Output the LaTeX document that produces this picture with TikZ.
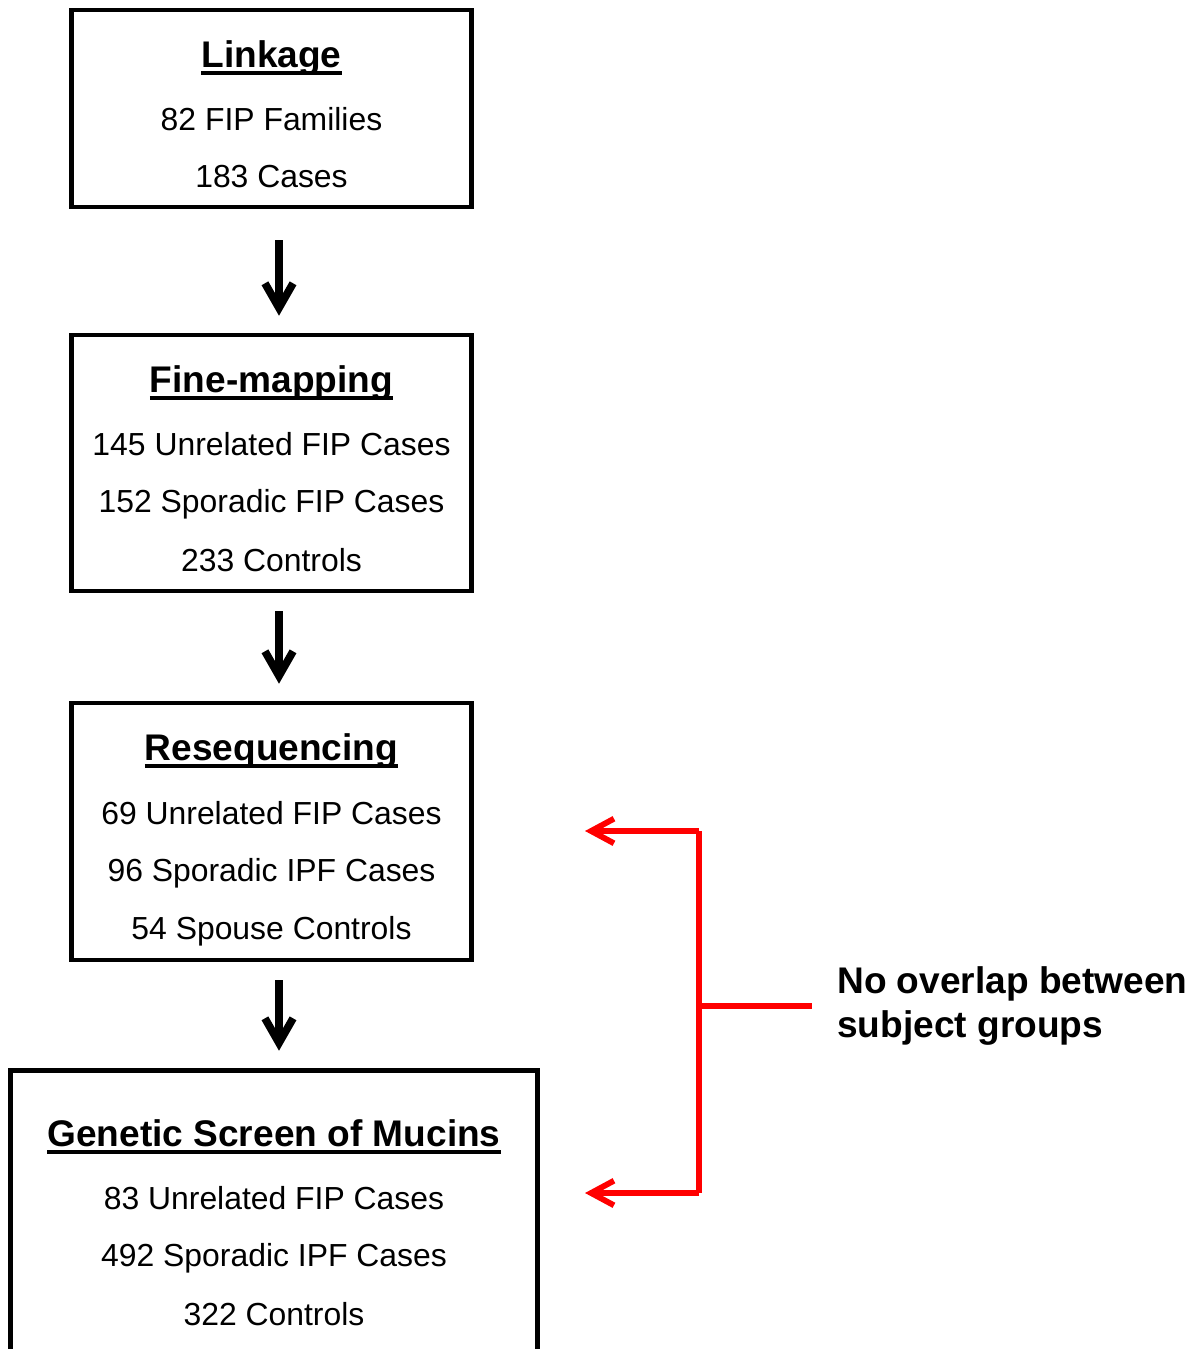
\documentclass[tikz,border=0pt]{standalone}
\usepackage{fontspec}
\setmainfont{Liberation Sans}
\usepackage{tikz}
\usetikzlibrary{arrows.meta}

\newcommand{\ulhead}[1]{\leavevmode\setbox0=\hbox{#1}\rlap{\copy0}\rule[-4.3pt]{\wd0}{2.1pt}}

\tikzset{
  box/.style={draw, line width=2.8pt, inner sep=0pt},
  head/.style={anchor=base, inner sep=0pt, font=\fontsize{21.1}{25}\selectfont\bfseries},
  body/.style={anchor=base, inner sep=0pt, font=\fontsize{18.15}{22}\selectfont},
  arr/.style={line width=4.4pt, -{Straight Barb[length=14pt,width=16pt]}, shorten <=10pt, shorten >=9.6pt},
  redarr/.style={red, line width=3.3pt, -{Straight Barb[length=13pt,width=14pt]}},
}

\begin{document}
\begin{tikzpicture}[x=0.02cm, y=-0.02cm]
\clip (0,0) rectangle (1194,1349);

% boxes
\node[box, minimum width=8cm, minimum height=3.94cm] (linkage) at (271.5,108.5) {};
\node[box, minimum width=8cm, minimum height=5.12cm] (finemap) at (271.5,463) {};
\node[box, minimum width=8cm, minimum height=5.14cm] (reseq) at (271.5,831.5) {};
\node[box, minimum width=10.56cm, minimum height=6cm] (mucins) at (274,1220) {};

% box texts
\node[head] (linkagehead) at (271.5,67) {\ulhead{Linkage}};
\node[body] (linkageA) at (271.5,130) {82 FIP Families};
\node[body] (linkageB) at (271.5,187) {183 Cases};

\node[head] (finemaphead) at (271.5,392) {\ulhead{Fine-mapping}};
\node[body] (finemapA) at (271.5,455) {145 Unrelated FIP Cases};
\node[body] (finemapB) at (271.5,512) {152 Sporadic FIP Cases};
\node[body] (finemapC) at (271.5,571) {233 Controls};

\node[head] (reseqhead) at (271.5,760) {\ulhead{Resequencing}};
\node[body] (reseqA) at (271.5,824) {69 Unrelated FIP Cases};
\node[body] (reseqB) at (271.5,881) {96 Sporadic IPF Cases};
\node[body] (reseqC) at (271.5,939) {54 Spouse Controls};

\node[head] (mucinshead) at (274,1146) {\ulhead{Genetic Screen of Mucins}};
\node[body] (mucinsA) at (274,1209) {83 Unrelated FIP Cases};
\node[body] (mucinsB) at (274,1266) {492 Sporadic IPF Cases};
\node[body] (mucinsC) at (274,1325) {322 Controls};

% flow arrows
\draw[arr, shorten <=17.6pt] ([xshift=0.15cm]linkage.south) -- ([xshift=0.15cm]linkage.south |- finemap.north);
\draw[arr] ([xshift=0.15cm]finemap.south) -- ([xshift=0.15cm]finemap.south |- reseq.north);
\draw[arr] ([xshift=0.15cm]reseq.south) -- ([xshift=0.15cm]reseq.south |- mucins.north);

% red bracket
\node[anchor=west, inner ysep=0pt, inner xsep=14.2pt, align=left, font=\fontsize{21.1}{25.5}\selectfont\bfseries] (note) at (812,1006) {No overlap between\\subject groups};
\coordinate (brtop) at (699,831);
\coordinate (brbot) at (699,1193);
\coordinate (brmid) at (699,1006);
\coordinate (reseqend) at (585,831);
\coordinate (mucinsend) at (585,1193);
\draw[red, line width=3.3pt] (brtop) -- (brbot);
\draw[red, line width=3.3pt] (brmid) -- (brmid -| note.west);
\draw[redarr] (brtop) -- (reseqend);
\draw[redarr] (brbot) -- (mucinsend);
\end{tikzpicture}
\end{document}
